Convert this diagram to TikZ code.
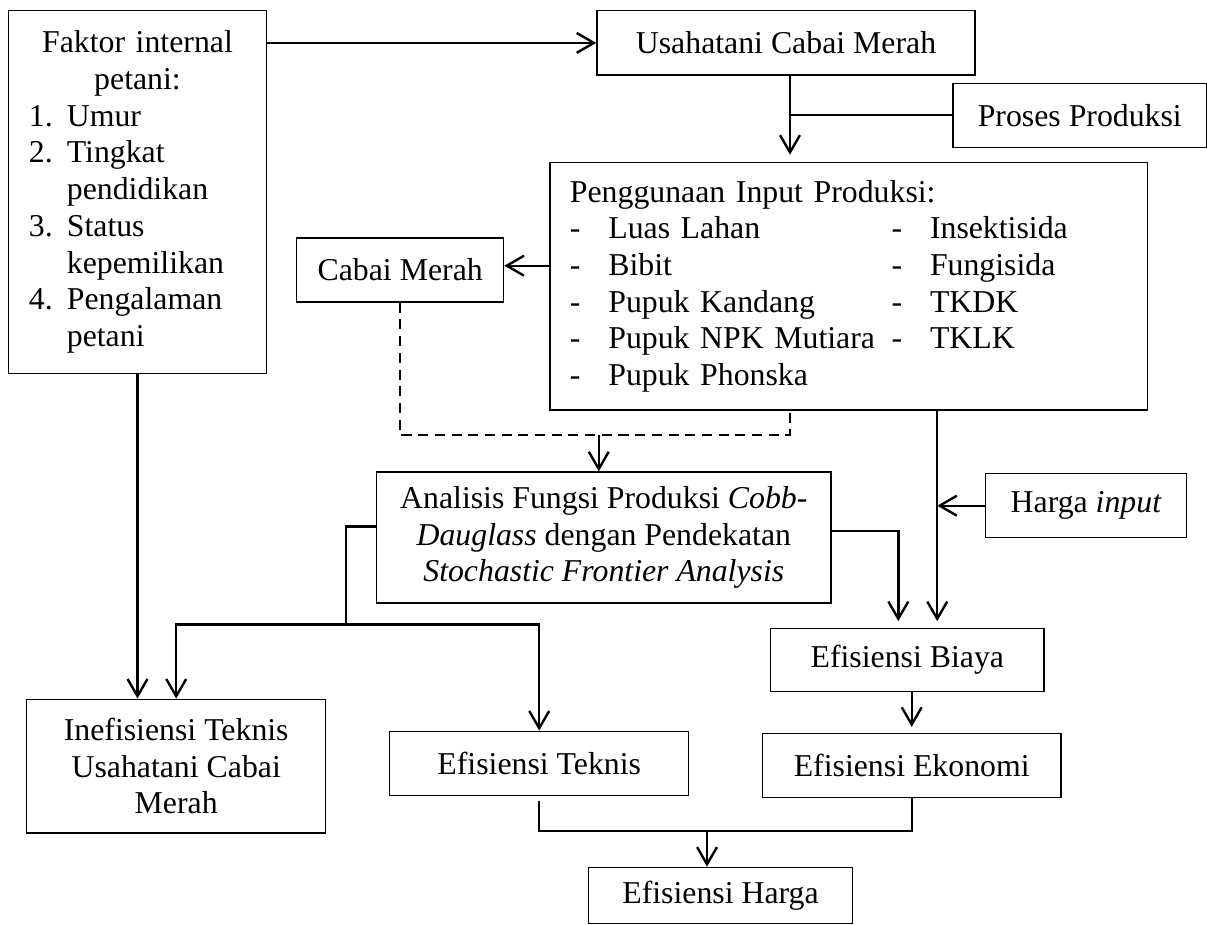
\documentclass[tikz,border=0pt]{standalone}
\usepackage{fontspec}
\setmainfont{Liberation Serif}
\usetikzlibrary{arrows.meta}

\tikzset{
  box/.style={draw, line width=0.5pt, inner sep=0pt,
    font={\fontsize{12}{13.85}\selectfont}},
  conn/.style={line width=0.9pt},
  arr/.style={conn, -{Straight Barb[length=6.5pt,width=7.5pt]}},
  dashconn/.style={conn, dash pattern=on 3.8pt off 2.5pt}
}

\newcommand{\numitem}[1]{\makebox[14.3pt][l]{#1}}
\newcommand{\dashitem}[1]{\makebox[14.5pt][l]{-}#1}
\newcommand{\twoitem}[2]{\makebox[121.4pt][l]{\dashitem{#1}}\dashitem{#2}}

\begin{document}
\begin{tikzpicture}[x=0.3774pt, y=-0.3774pt]

\clip (0,0) rectangle (1207,924);

% kotak
\node [box, minimum width=97.5pt, minimum height=136.8pt,
text width=81.9pt, align=left] (faktor) at (137.5,192) {%
\makebox[\linewidth]{Faktor internal}\\
\makebox[\linewidth]{petani:}\\
\numitem{1.}Umur\\
\numitem{2.}Tingkat\\
\hspace*{14.3pt}pendidikan\\
\numitem{3.}Status\\
\hspace*{14.3pt}kepemilikan\\
\numitem{4.}Pengalaman\\
\hspace*{14.3pt}petani};

\node [box, minimum width=142.7pt, minimum height=24.3pt] (usahatani)
 at (786,42.9) {Usahatani Cabai Merah};

\node [box, minimum width=95.7pt, minimum height=24.2pt] (proses)
 at (1079.8,115.3) {Proses Produksi};

\node [box, minimum width=225.6pt, minimum height=93.5pt,
text width=210.5pt, align=left] (inputprod) at (848.8,286.2) {%
Penggunaan Input Produksi:\\
\twoitem{Luas Lahan}{Insektisida}\\
\twoitem{Bibit}{Fungisida}\\
\twoitem{Pupuk Kandang}{TKDK}\\
\twoitem{Pupuk NPK Mutiara}{TKLK}\\
\dashitem{Pupuk Phonska}};

\node [box, minimum width=78.1pt, minimum height=24.2pt] (cabai)
 at (400.2,270) {Cabai Merah};

\node [box, minimum width=171.5pt, minimum height=49.4pt, align=center] (analisis)
 at (603.8,537.5) {Analisis Fungsi Produksi \textit{Cobb-}\\
\textit{Dauglass} dengan Pendekatan\\
\textit{Stochastic Frontier Analysis}};

\node [box, minimum width=75.9pt, minimum height=24.2pt] (hargainput)
 at (1086.2,505.7) {Harga \textit{input}};

\node [box, minimum width=103.1pt, minimum height=23.6pt] (biaya)
 at (907.3,660) {Efisiensi Biaya};

\node [box, minimum width=112.8pt, minimum height=50.5pt, align=center] (inefisiensi)
 at (176.2,766.2) {Inefisiensi Teknis\\ Usahatani Cabai\\ Merah};

\node [box, minimum width=112.8pt, minimum height=24.2pt] (teknis)
 at (539.2,763.3) {Efisiensi Teknis};

\node [box, minimum width=112.7pt, minimum height=24.2pt] (ekonomi)
 at (911.7,765.7) {Efisiensi Ekonomi};

\node [box, minimum width=99.5pt, minimum height=21.1pt] (hargaeff)
 at (720.5,895.3) {Efisiensi Harga};

% garis
\coordinate (ustem) at ([xshift=1.5pt]usahatani.south);
\coordinate (dashrow) at (0,435);
\coordinate (tsplit) at (346,624.3);
\coordinate (vstem) at (937.2,0);
\coordinate (ejoin) at (707,831);

\draw [arr] (faktor.east |- usahatani.west) -- (usahatani.west);
\draw [arr, shorten >=2.6pt] (ustem) -- (ustem |- inputprod.north);
\draw [conn] (proses.west) -- (proses.west -| ustem);
\draw [arr] (inputprod.west |- 0,265.7) -- (cabai.east |- 0,265.7);

\draw [dashconn] (cabai.south) -- (cabai.south |- dashrow)
 -- (ustem |- dashrow) -- (ustem |- inputprod.south);
\draw [arr] ([xshift=-1.9pt]analisis.north |- dashrow) -- ([xshift=-1.9pt]analisis.north);

\draw [arr] (faktor.south) -- (faktor.south |- inefisiensi.north);
\draw [conn] (analisis.west |- 0,526.3) -| (tsplit);
\draw [arr] (tsplit) -| (inefisiensi.north);
\draw [arr] (tsplit) -| (teknis.north);

\draw [arr, shorten >=2.6pt] (inputprod.south -| vstem) -- (biaya.north -| vstem);
\draw [arr] (hargainput.west) -- (hargainput.west -| vstem);
\draw [arr, shorten >=2.6pt] (analisis.east |- 0,531) -| (biaya.north -| 898.3,0);
\draw [arr, shorten >=2.3pt] (biaya.south -| ekonomi.north) -- (ekonomi.north);

\draw [conn] ([yshift=-1.8pt]teknis.south) |- (ejoin -| ekonomi.south) -- (ekonomi.south);
\draw [arr] (ejoin) -- (ejoin |- hargaeff.north);

\end{tikzpicture}
\end{document}
